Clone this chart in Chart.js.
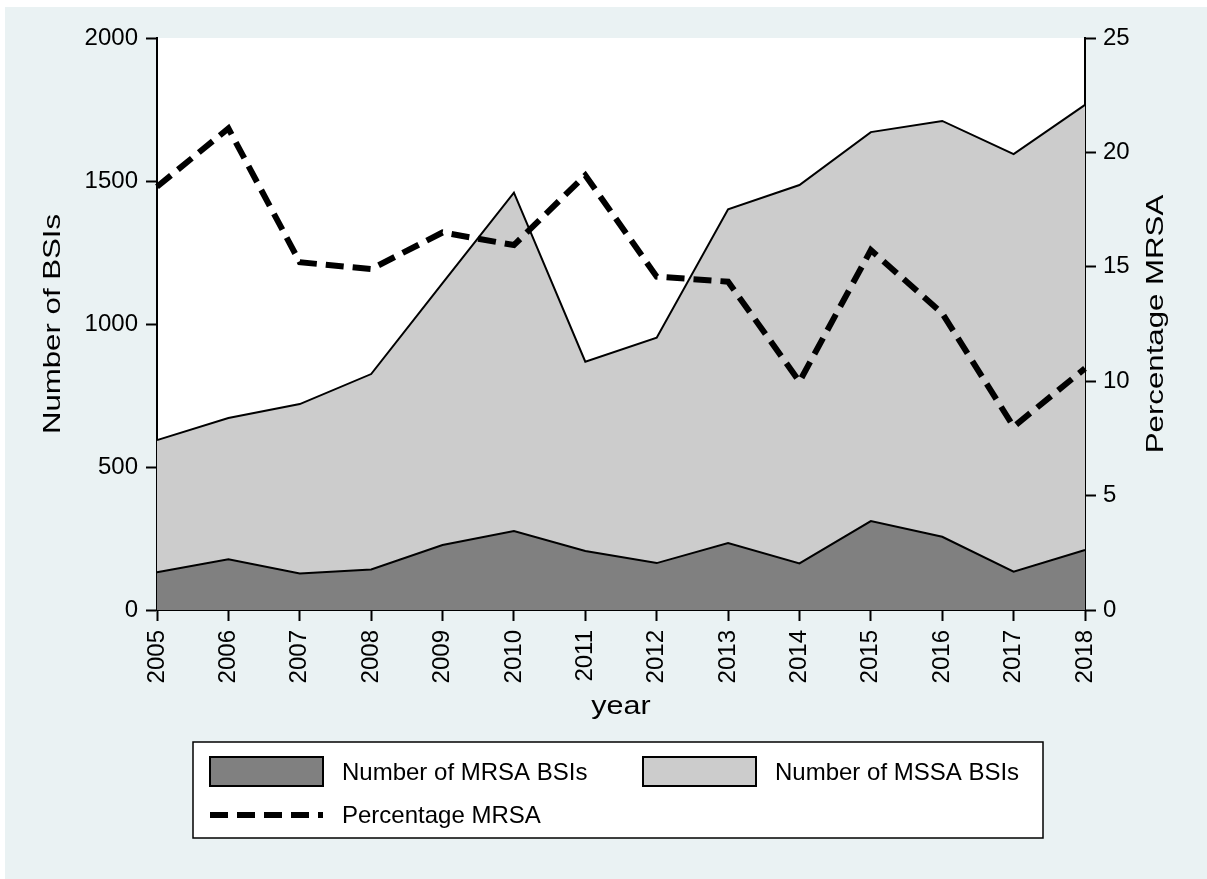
<!DOCTYPE html>
<html>
<head>
<meta charset="utf-8">
<title>MRSA and MSSA BSIs</title>
<script src="https://cdn.jsdelivr.net/npm/chart.js@4.4.1/dist/chart.umd.min.js"></script>
<style>
  body { margin: 0; background: #ffffff; }
  canvas { display: block; }
</style>
</head>
<body>
<canvas id="bsiChart" width="1207" height="879"></canvas>
<script>
// values
const years = ["2005", "2006", "2007", "2008", "2009", "2010", "2011",
               "2012", "2013", "2014", "2015", "2016", "2017", "2018"];
const mrsaCounts = [132, 177, 128, 142, 227, 276, 206, 164, 234, 163, 311, 256, 134, 210];
const mssaCounts = [462, 494, 592, 683, 916, 1183, 662, 788, 1167, 1323, 1360, 1454, 1460, 1556];
const percentMrsa = [18.5, 21.05, 15.2, 14.9, 16.5, 15.95, 19.0, 14.57, 14.35, 9.98, 15.73, 12.97, 8.01, 10.56];
const countTicks = [0, 500, 1000, 1500, 2000];
const percentTicks = [0, 5, 10, 15, 20, 25];

const FONT = "'Liberation Sans', Arial, sans-serif";

function drawStretched(ctx, text, x, y, angle, stretch) {
    ctx.save();
    ctx.translate(x, y);
    ctx.rotate(angle);
    ctx.scale(stretch, 1);
    ctx.fillText(text, 0, 0);
    ctx.restore();
}

// background, plot region, axis titles and the boxed legend (Stata look)
const stataFrame = {
    id: "stataFrame",
    beforeDraw(chart) {
        const ctx = chart.ctx;
        const area = chart.chartArea;
        ctx.save();
        ctx.fillStyle = "#ffffff";
        ctx.fillRect(0, 0, chart.width, chart.height);
        ctx.fillStyle = "#eaf2f3";
        ctx.fillRect(5, 7, chart.width - 5, chart.height - 7);
        ctx.fillStyle = "#ffffff";
        ctx.fillRect(area.left, area.top, area.right - area.left, area.bottom - area.top);
        ctx.restore();
    },
    afterDraw(chart) {
        const ctx = chart.ctx;
        const area = chart.chartArea;
        const midY = (area.top + area.bottom) / 2;
        const midX = (area.left + area.right) / 2;

        ctx.save();
        ctx.fillStyle = "#000000";
        ctx.font = "24px " + FONT;
        ctx.textAlign = "center";
        ctx.textBaseline = "alphabetic";
        drawStretched(ctx, "Number of BSIs", 60, midY, -Math.PI / 2, 1.3);
        drawStretched(ctx, "Percentage MRSA", 1163, midY, -Math.PI / 2, 1.3);
        ctx.font = "25px " + FONT;
        drawStretched(ctx, "year", midX, 714, 0, 1.22);

        // legend
        const sets = chart.data.datasets;
        ctx.fillStyle = "#ffffff";
        ctx.fillRect(193, 742, 850, 96);
        ctx.strokeStyle = "#000000";
        ctx.lineWidth = 1.5;
        ctx.strokeRect(193, 742, 850, 96);

        ctx.font = "24px " + FONT;
        ctx.textAlign = "left";
        ctx.textBaseline = "middle";

        const boxes = [
            { ds: sets[1], x: 210, y: 757 },
            { ds: sets[2], x: 643, y: 757 }
        ];
        boxes.forEach(b => {
            ctx.fillStyle = b.ds.backgroundColor;
            ctx.fillRect(b.x, b.y, 113, 29);
            ctx.lineWidth = 2;
            ctx.strokeStyle = "#000000";
            ctx.strokeRect(b.x, b.y, 113, 29);
            ctx.fillStyle = "#000000";
            ctx.fillText(b.ds.label, b.x + 132, b.y + 16);
        });

        const pct = sets[0];
        ctx.strokeStyle = pct.borderColor;
        ctx.lineWidth = pct.borderWidth;
        ctx.setLineDash(pct.borderDash);
        ctx.beginPath();
        ctx.moveTo(210, 815);
        ctx.lineTo(323, 815);
        ctx.stroke();
        ctx.setLineDash([]);
        ctx.fillStyle = "#000000";
        ctx.fillText(pct.label, 342, 816);
        ctx.restore();
    }
};

function plainNumber(value) {
    return String(value);
}

function drawChart() {
    const ctx = document.getElementById("bsiChart").getContext("2d");

    new Chart(ctx, {
        type: "line",
        data: {
            labels: years,
            datasets: [
                {
                    label: "Percentage MRSA",
                    data: percentMrsa,
                    yAxisID: "y2",
                    borderColor: "#000000",
                    borderWidth: 6,
                    borderDash: [18, 9],
                    borderCapStyle: "butt",
                    fill: false,
                    pointRadius: 0,
                    order: 0
                },
                {
                    label: "Number of MRSA BSIs",
                    data: mrsaCounts,
                    yAxisID: "y",
                    backgroundColor: "#808080",
                    borderColor: "#000000",
                    borderWidth: 2,
                    fill: "origin",
                    pointRadius: 0,
                    order: 1
                },
                {
                    label: "Number of MSSA BSIs",
                    data: mssaCounts,
                    yAxisID: "y",
                    backgroundColor: "#cccccc",
                    borderColor: "#000000",
                    borderWidth: 2,
                    fill: "-1",
                    pointRadius: 0,
                    order: 2
                }
            ]
        },
        options: {
            responsive: false,
            animation: false,
            devicePixelRatio: 1,
            layout: { padding: { top: 38, left: 0, right: 0, bottom: 0 } },
            plugins: {
                legend: { display: false },
                tooltip: { enabled: false }
            },
            elements: { line: { tension: 0 } },
            scales: {
                x: {
                    z: 1,
                    offset: false,
                    grid: { drawOnChartArea: false, tickLength: 11, tickWidth: 2, tickColor: "#000000" },
                    border: { color: "#000000", width: 2 },
                    ticks: {
                        autoSkip: false,
                        maxRotation: 90,
                        minRotation: 90,
                        padding: 9,
                        color: "#000000",
                        font: { family: FONT, size: 24 }
                    },
                    afterFit: s => { s.height = 269; }
                },
                y: {
                    z: 1,
                    stacked: true,
                    min: 0,
                    max: 2000,
                    afterBuildTicks: s => { s.ticks = countTicks.map(v => ({ value: v })); },
                    grid: { drawOnChartArea: false, tickLength: 11, tickWidth: 2, tickColor: "#000000" },
                    border: { color: "#000000", width: 2 },
                    ticks: {
                        padding: 8,
                        color: "#000000",
                        callback: plainNumber,
                        font: { family: FONT, size: 24 }
                    },
                    afterFit: s => { s.width = 157; }
                },
                y2: {
                    z: 1,
                    position: "right",
                    stacked: false,
                    min: 0,
                    max: 25,
                    afterBuildTicks: s => { s.ticks = percentTicks.map(v => ({ value: v })); },
                    grid: { drawOnChartArea: false, tickLength: 11, tickWidth: 2, tickColor: "#000000" },
                    border: { color: "#000000", width: 2 },
                    ticks: {
                        padding: 7,
                        color: "#000000",
                        callback: plainNumber,
                        font: { family: FONT, size: 24 }
                    },
                    afterFit: s => { s.width = 122; }
                }
            }
        },
        plugins: [stataFrame]
    });
}

window.onload = drawChart;
</script>
</body>
</html>
